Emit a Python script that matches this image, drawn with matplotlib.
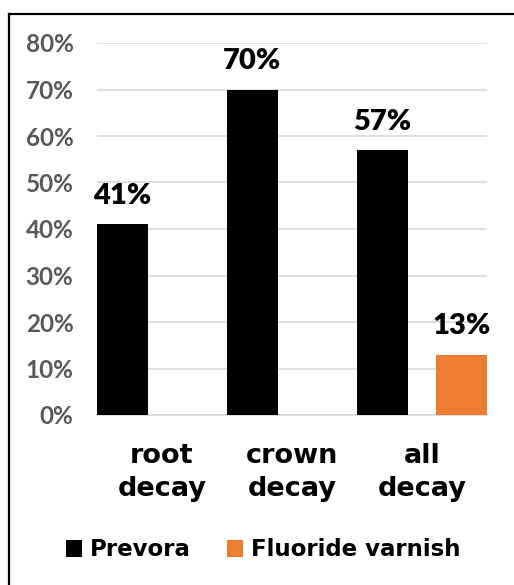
import numpy as np
import matplotlib.pyplot as plt
from matplotlib.lines import Line2D

categories = ['root\ndecay', 'crown\ndecay', 'all\ndecay']
prevora = [41, 70, 57]
fluoride = [np.nan, np.nan, 13]
yticks = [0, 10, 20, 30, 40, 50, 60, 70, 80]

plt.rcParams['font.family'] = ['Lato', 'DejaVu Sans']
plt.rcParams['font.weight'] = 'bold'

W, H = 514, 585
fig = plt.figure(figsize=(W / 100, H / 100), dpi=100)
ax = fig.add_axes([97 / W, 1 - 415 / H, 390 / W, 372 / H])

x = np.arange(len(categories))
width = 0.392
offset = 0.304
b1 = ax.bar(x - offset, prevora, width, color='black', label='Prevora', zorder=3)
b2 = ax.bar(x + offset, fluoride, width, color='#ED7D31', label='Fluoride varnish', zorder=3)

for bars, vals in [(b1, prevora), (b2, fluoride)]:
    for rect, v in zip(bars, vals):
        if np.isnan(v):
            continue
        ax.annotate(f'{v:.0f}%', (rect.get_x() + rect.get_width() / 2, v),
                    xytext=(0, 11), textcoords='offset points',
                    ha='center', va='bottom', fontsize=21, fontweight='heavy', color='black')

ax.set_xlim(-0.5, 2.5)
ax.set_ylim(0, 80)
ax.set_yticks(yticks)
ax.set_yticklabels([f'{t}%' for t in yticks], fontsize=17.5, fontweight='bold', color='#595959')
ax.set_xticks(x)
ax.set_xticklabels(categories, fontsize=19.5, fontweight='bold', linespacing=1.35,
                   family='DejaVu Sans')
ax.tick_params(axis='both', length=0)
ax.tick_params(axis='y', pad=17)
ax.tick_params(axis='x', pad=20)
ax.grid(axis='y', color='#D9D9D9', lw=1.2, zorder=0)
for s in ['top', 'right', 'left']:
    ax.spines[s].set_visible(False)
ax.spines['bottom'].set_color('#D9D9D9')
ax.spines['bottom'].set_linewidth(1.2)

leg = fig.legend(handles=[b1, b2], loc='center', bbox_to_anchor=(0.512, 1 - 550 / H),
                 ncol=2, frameon=False, handlelength=0.7, handleheight=0.7,
                 handletextpad=0.35, columnspacing=1.6,
                 prop={'family': 'DejaVu Sans', 'weight': 'bold', 'size': 16.5})

# outer frame (cut off at right and bottom)
fig.add_artist(Line2D([9 / W, 9 / W], [0, 1 - 14 / H], transform=fig.transFigure, color='black', lw=1.6))
fig.add_artist(Line2D([9 / W, 1], [1 - 14 / H, 1 - 14 / H], transform=fig.transFigure, color='black', lw=1.6))

plt.savefig('out.png', dpi=100)
